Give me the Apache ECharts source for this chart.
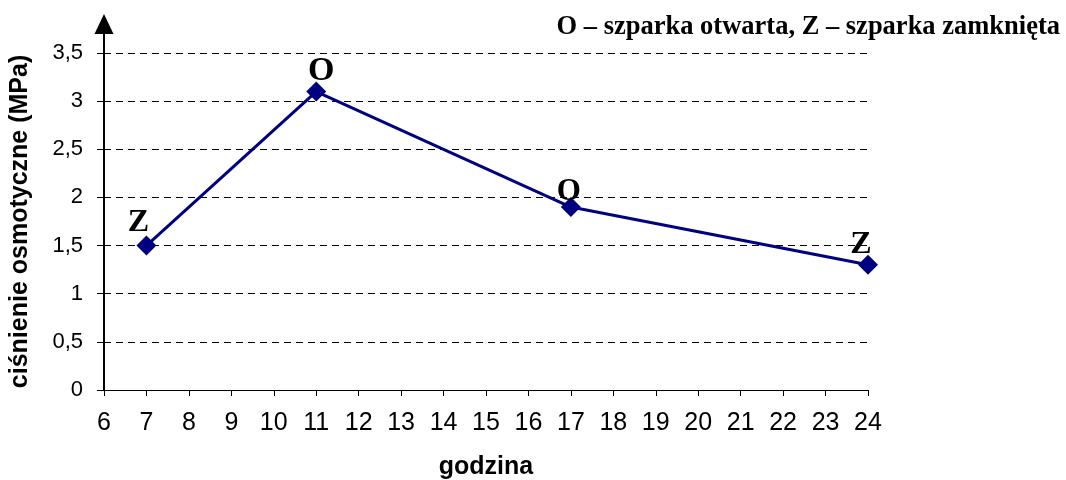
<!DOCTYPE html>
<html>
<head>
<meta charset="utf-8">
<script src="https://cdn.jsdelivr.net/npm/echarts@6/dist/echarts.min.js"></script>
<style>html,body{margin:0;padding:0;background:#fff}#c{width:1066px;height:480px}</style>
</head>
<body>
<div id="c"></div>
<script>
var hours = [7, 11, 17, 24];
var pressure = [1.5, 3.1, 1.9, 1.3];
var stomaLabels = ['Z', 'O', 'O', 'Z'];
var titleText = 'O – szparka otwarta, Z – szparka zamknięta';
var xName = 'godzina';
var yName = 'ciśnienie osmotyczne (MPa)';

var labelStyles = [
  {fontSize: 32, offset: [-8, 3]},
  {fontSize: 34, offset: [5, 7]},
  {fontSize: 31, offset: [-2, 10]},
  {fontSize: 32, offset: [-7, 6]}
];

var seriesData = hours.map(function (h, i) {
  return {
    value: [h, pressure[i]],
    label: {
      show: true,
      formatter: stomaLabels[i],
      position: 'top',
      distance: 0,
      offset: labelStyles[i].offset,
      fontSize: labelStyles[i].fontSize,
      fontFamily: 'Liberation Serif',
      fontWeight: 'bold',
      color: '#000'
    }
  };
});

var chart = echarts.init(document.getElementById('c'), null, {renderer: 'canvas'});
chart.setOption({
  animation: false,
  backgroundColor: '#fff',
  title: {
    text: titleText,
    right: 6,
    top: 14,
    padding: 0,
    textStyle: {fontFamily: 'Liberation Serif', fontWeight: 'bold', fontSize: 26.5, color: '#000'}
  },
  grid: [
    {left: 104, right: 198, top: 53, bottom: 90, containLabel: false, outerBoundsMode: 'none'},
    {left: 104, right: 198, top: 24, bottom: 90, containLabel: false, outerBoundsMode: 'none'}
  ],
  xAxis: [{
    type: 'value',
    gridIndex: 0,
    min: 6, max: 24, interval: 1,
    name: xName,
    nameLocation: 'middle',
    nameGap: 65,
    nameTextStyle: {fontFamily: 'Liberation Sans', fontWeight: 'bold', fontSize: 25, color: '#000'},
    axisLine: {show: true, lineStyle: {color: '#000', width: 1}},
    axisTick: {show: true, inside: false, length: 6, lineStyle: {color: '#000'}},
    axisLabel: {margin: 21, fontFamily: 'Liberation Sans', fontSize: 25, color: '#000'},
    splitLine: {show: false}
  }, {
    type: 'value', gridIndex: 1, min: 0, max: 1, show: false
  }],
  yAxis: [{
    type: 'value',
    gridIndex: 0,
    min: 0, max: 3.5, interval: 0.5,
    name: yName,
    nameLocation: 'middle',
    nameGap: 71,
    nameTextStyle: {fontFamily: 'Liberation Sans', fontWeight: 'bold', fontSize: 25, color: '#000'},
    axisLine: {show: true, lineStyle: {color: '#000', width: 1}},
    axisTick: {show: true, inside: false, length: 7, lineStyle: {color: '#000'}},
    axisLabel: {
      margin: 21, fontFamily: 'Liberation Sans', fontSize: 22, color: '#000',
      formatter: function (v) { return String(v).replace('.', ','); }
    },
    splitLine: {show: true, lineStyle: {color: '#000', width: 1, type: [7, 5]}}
  }, {
    type: 'value',
    gridIndex: 1,
    min: 0, max: 1,
    axisLine: {show: true, symbol: ['none', 'triangle'], symbolSize: [19, 20], lineStyle: {color: '#000', width: 2}},
    axisTick: {show: false},
    axisLabel: {show: false},
    splitLine: {show: false}
  }],
  series: [{
    type: 'line',
    xAxisIndex: 0,
    yAxisIndex: 0,
    data: seriesData,
    symbol: 'diamond',
    symbolSize: 20,
    lineStyle: {color: '#000080', width: 3},
    itemStyle: {color: '#000080'},
    z: 5
  }]
});
</script>
</body>
</html>
